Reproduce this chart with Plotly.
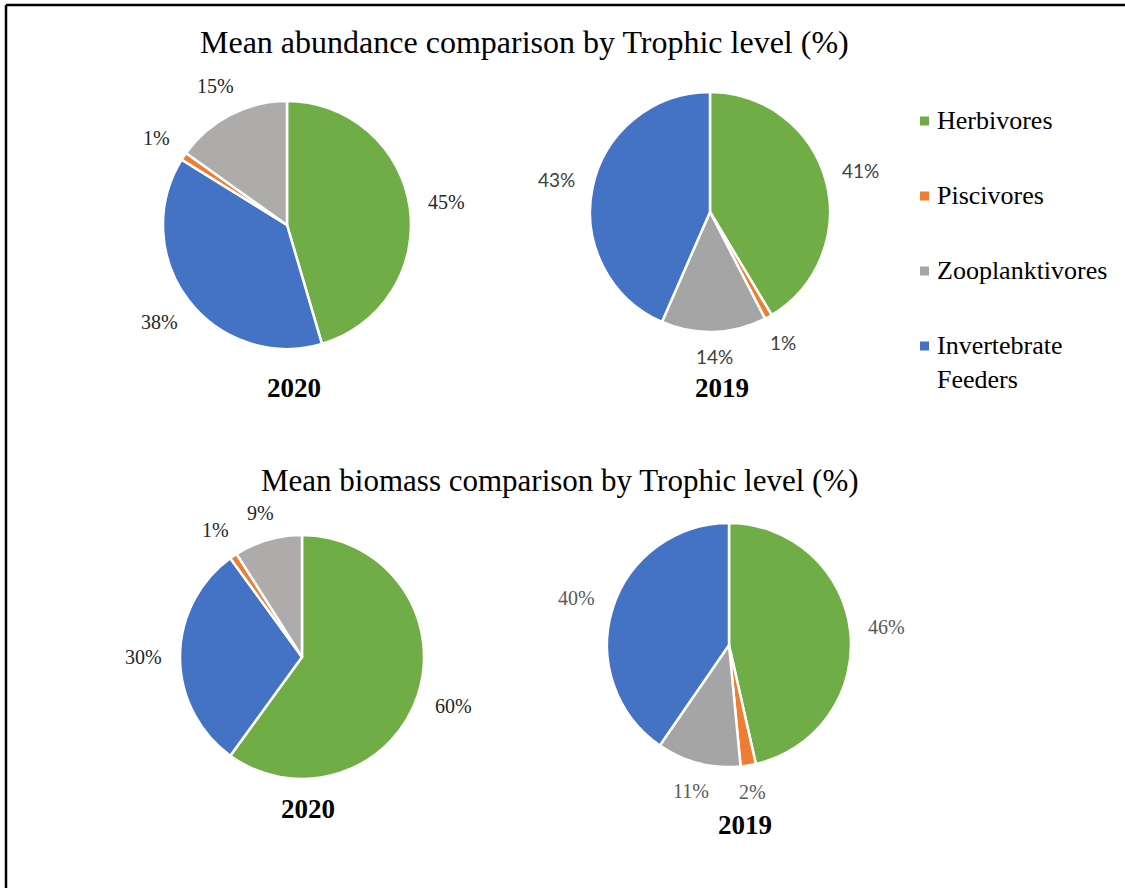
import math
import plotly.graph_objects as go

W, H = 1125, 888

# ---- data -------------------------------------------------------------
categories = ["Herbivores", "Piscivores", "Zooplanktivores", "Invertebrate Feeders"]
legend_text = ["Herbivores", "Piscivores", "Zooplanktivores", "Invertebrate<br>Feeders"]

# percentage share per category (same order as `categories`)
abundance_2020 = [45, 1, 15, 38]
abundance_2019 = [41, 1, 14, 43]
biomass_2020 = [60, 1, 9, 30]
biomass_2019 = [46, 2, 11, 40]

years = ["2020", "2019"]
chart_titles = [
    "Mean abundance comparison by Trophic level (%)",
    "Mean biomass comparison by Trophic level (%)",
]

# slice order, clockwise from 12 o'clock
order_2020 = ["Herbivores", "Invertebrate Feeders", "Piscivores", "Zooplanktivores"]
order_2019 = ["Herbivores", "Piscivores", "Zooplanktivores", "Invertebrate Feeders"]

# ---- styling ----------------------------------------------------------
SERIF = "Liberation Serif, Times New Roman, serif"
SANS = "Lato, Open Sans, sans-serif"
base_colors = {
    "Herbivores": "#70AD47",
    "Piscivores": "#ED7D31",
    "Zooplanktivores": "#A5A5A5",
    "Invertebrate Feeders": "#4472C4",
}


def px(x, y):
    """pixel position -> paper coordinates (margins are zero)"""
    return x / W, 1 - y / H


panels = [
    dict(values=abundance_2020, order=order_2020, cx=287, cy=225, r=124,
         font=SERIF, fcolor="#262626", fsize=20, gray="#AEABAB",
         year=years[0], ypos=(294, 388)),
    dict(values=abundance_2019, order=order_2019, cx=710, cy=212, r=120,
         font=SANS, fcolor="#404040", fsize=19, gray="#A5A5A5",
         year=years[1], ypos=(722, 388)),
    dict(values=biomass_2020, order=order_2020, cx=302, cy=657, r=122,
         font=SERIF, fcolor="#262626", fsize=20, gray="#AEABAB",
         year=years[0], ypos=(308, 809)),
    dict(values=biomass_2019, order=order_2019, cx=729, cy=645, r=122,
         font=SERIF, fcolor="#595959", fsize=20, gray="#A5A5A5",
         year=years[1], ypos=(745, 825)),
]

fig = go.Figure()
annotations = []
shapes = []

for p in panels:
    lookup = dict(zip(categories, p["values"]))
    vals = [lookup[c] for c in p["order"]]
    cols = [p["gray"] if c == "Zooplanktivores" else base_colors[c] for c in p["order"]]
    x0, y1 = px(p["cx"] - p["r"], p["cy"] - p["r"])
    x1, y0 = px(p["cx"] + p["r"], p["cy"] + p["r"])
    fig.add_trace(go.Pie(
        labels=p["order"], values=vals, sort=False, direction="clockwise",
        rotation=0, textinfo="none", hoverinfo="label+value",
        marker=dict(colors=cols, line=dict(color="white", width=2.5)),
        domain=dict(x=[x0, x1], y=[y0, y1]), showlegend=False,
    ))

    # percentage labels placed just outside each slice
    total = sum(vals)
    acc = 0
    for v in vals:
        mid = (acc + v / 2) / total * 2 * math.pi
        acc += v
        s, c = math.sin(mid), math.cos(mid)
        txt = f"{v}%"
        hw = p["fsize"] * (0.5 * (len(txt) - 1) + 0.83) / 2
        hh = p["fsize"] * 0.34
        d = p["r"] + 18 + hw * abs(s) + hh * abs(c)
        ax, ay = px(p["cx"] + d * s, p["cy"] - d * c)
        annotations.append(dict(
            x=ax, y=ay, xref="paper", yref="paper", text=txt, showarrow=False,
            xanchor="center", yanchor="middle",
            font=dict(family=p["font"], size=p["fsize"], color=p["fcolor"]),
        ))

    yx, yy = px(*p["ypos"])
    annotations.append(dict(
        x=yx, y=yy, xref="paper", yref="paper", text=f"<b>{p['year']}</b>",
        showarrow=False, xanchor="center", yanchor="middle",
        font=dict(family=SERIF, size=27, color="black"),
    ))

# chart titles
for t, (tx, ty), fs in zip(chart_titles, [(524, 42), (560, 480)], [32, 31]):
    x, y = px(tx, ty)
    annotations.append(dict(
        x=x, y=y, xref="paper", yref="paper", text=t, showarrow=False,
        xanchor="center", yanchor="middle",
        font=dict(family=SERIF, size=fs, color="black"),
    ))

# legend: small coloured squares with category names
for i, (cat, lab) in enumerate(zip(categories, legend_text)):
    cy = 121 + i * 75
    sx0, sy0 = px(920, cy - 4.5)
    sx1, sy1 = px(929, cy + 4.5)
    shapes.append(dict(type="rect", xref="paper", yref="paper",
                       x0=sx0, x1=sx1, y0=sy1, y1=sy0,
                       fillcolor=base_colors[cat], line=dict(width=0)))
    tx, ty = px(935, cy - 17)
    annotations.append(dict(
        x=tx, y=ty, xref="paper", yref="paper", text=lab, showarrow=False,
        xanchor="left", yanchor="top", align="left",
        font=dict(family=SERIF, size=26, color="black"),
    ))

# frame lines along top and left edges
fx0, fy0 = px(6, 5)
shapes.append(dict(type="line", xref="paper", yref="paper",
                   x0=fx0, x1=1, y0=fy0, y1=fy0, line=dict(color="black", width=2.5)))
shapes.append(dict(type="line", xref="paper", yref="paper",
                   x0=fx0, x1=fx0, y0=fy0, y1=0, line=dict(color="black", width=2.5)))

fig.update_layout(
    width=W, height=H,
    margin=dict(l=0, r=0, t=0, b=0),
    paper_bgcolor="white", plot_bgcolor="white",
    annotations=annotations, shapes=shapes,
)

fig.write_html("out.html")
